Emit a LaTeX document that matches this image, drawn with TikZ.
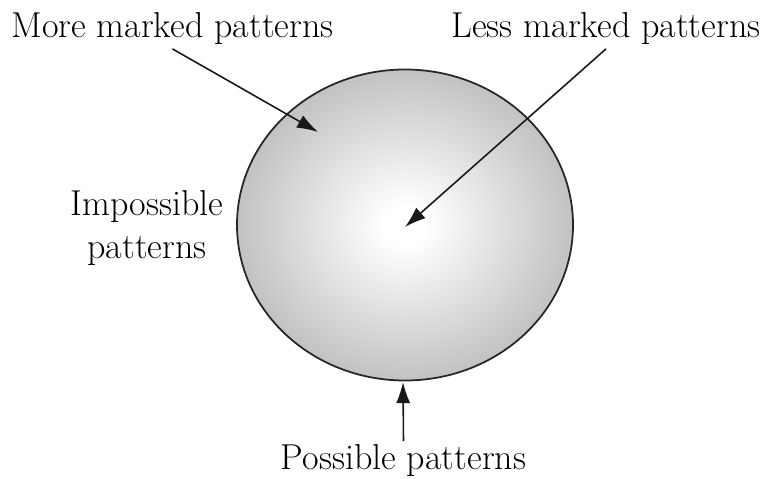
\documentclass[tikz,border=0pt]{standalone}
\usetikzlibrary{arrows.meta, positioning}

\pgfdeclareradialshading{ballshade}{\pgfpoint{0bp}{0bp}}{%
  color(0bp)=(white); color(3bp)=(white); color(25bp)=(black!24);
  color(50bp)=(black!44); color(100bp)=(black!44)}

\begin{document}
\begin{tikzpicture}[x=0.2mm, y=-0.2mm,
    every node/.style={font=\fontsize{20.5}{24}\selectfont, inner sep=2pt},
    pointer/.style={-{Latex[length=12pt, width=8pt]}, line width=0.9pt, black!90}]
		\useasboundingbox (0,0) rectangle (763,479);
		\path[shading=ballshade, draw=black!85, line width=1pt] (405,225) ellipse [x radius=3.36cm, y radius=3.11cm];
		\node[anchor=base] (more) at (172.5,38) {More marked patterns};
		\node[anchor=base] (less) at (606,38) {Less marked patterns};
		\node[align=center] (imp) at (147,228) {Impossible\\patterns};
		\node[anchor=base] (poss) at (403.5,470) {Possible patterns};
		\coordinate (mtip) at (318,132);
		\coordinate (ltip) at (405,227);
		\coordinate (ptip) at (403,382);
		\draw[pointer] (more.south) -- (mtip);
		\draw[pointer] (less.south) -- (ltip);
		\draw[pointer] (poss.north) -- (ptip);
	\end{tikzpicture}
\end{document}
